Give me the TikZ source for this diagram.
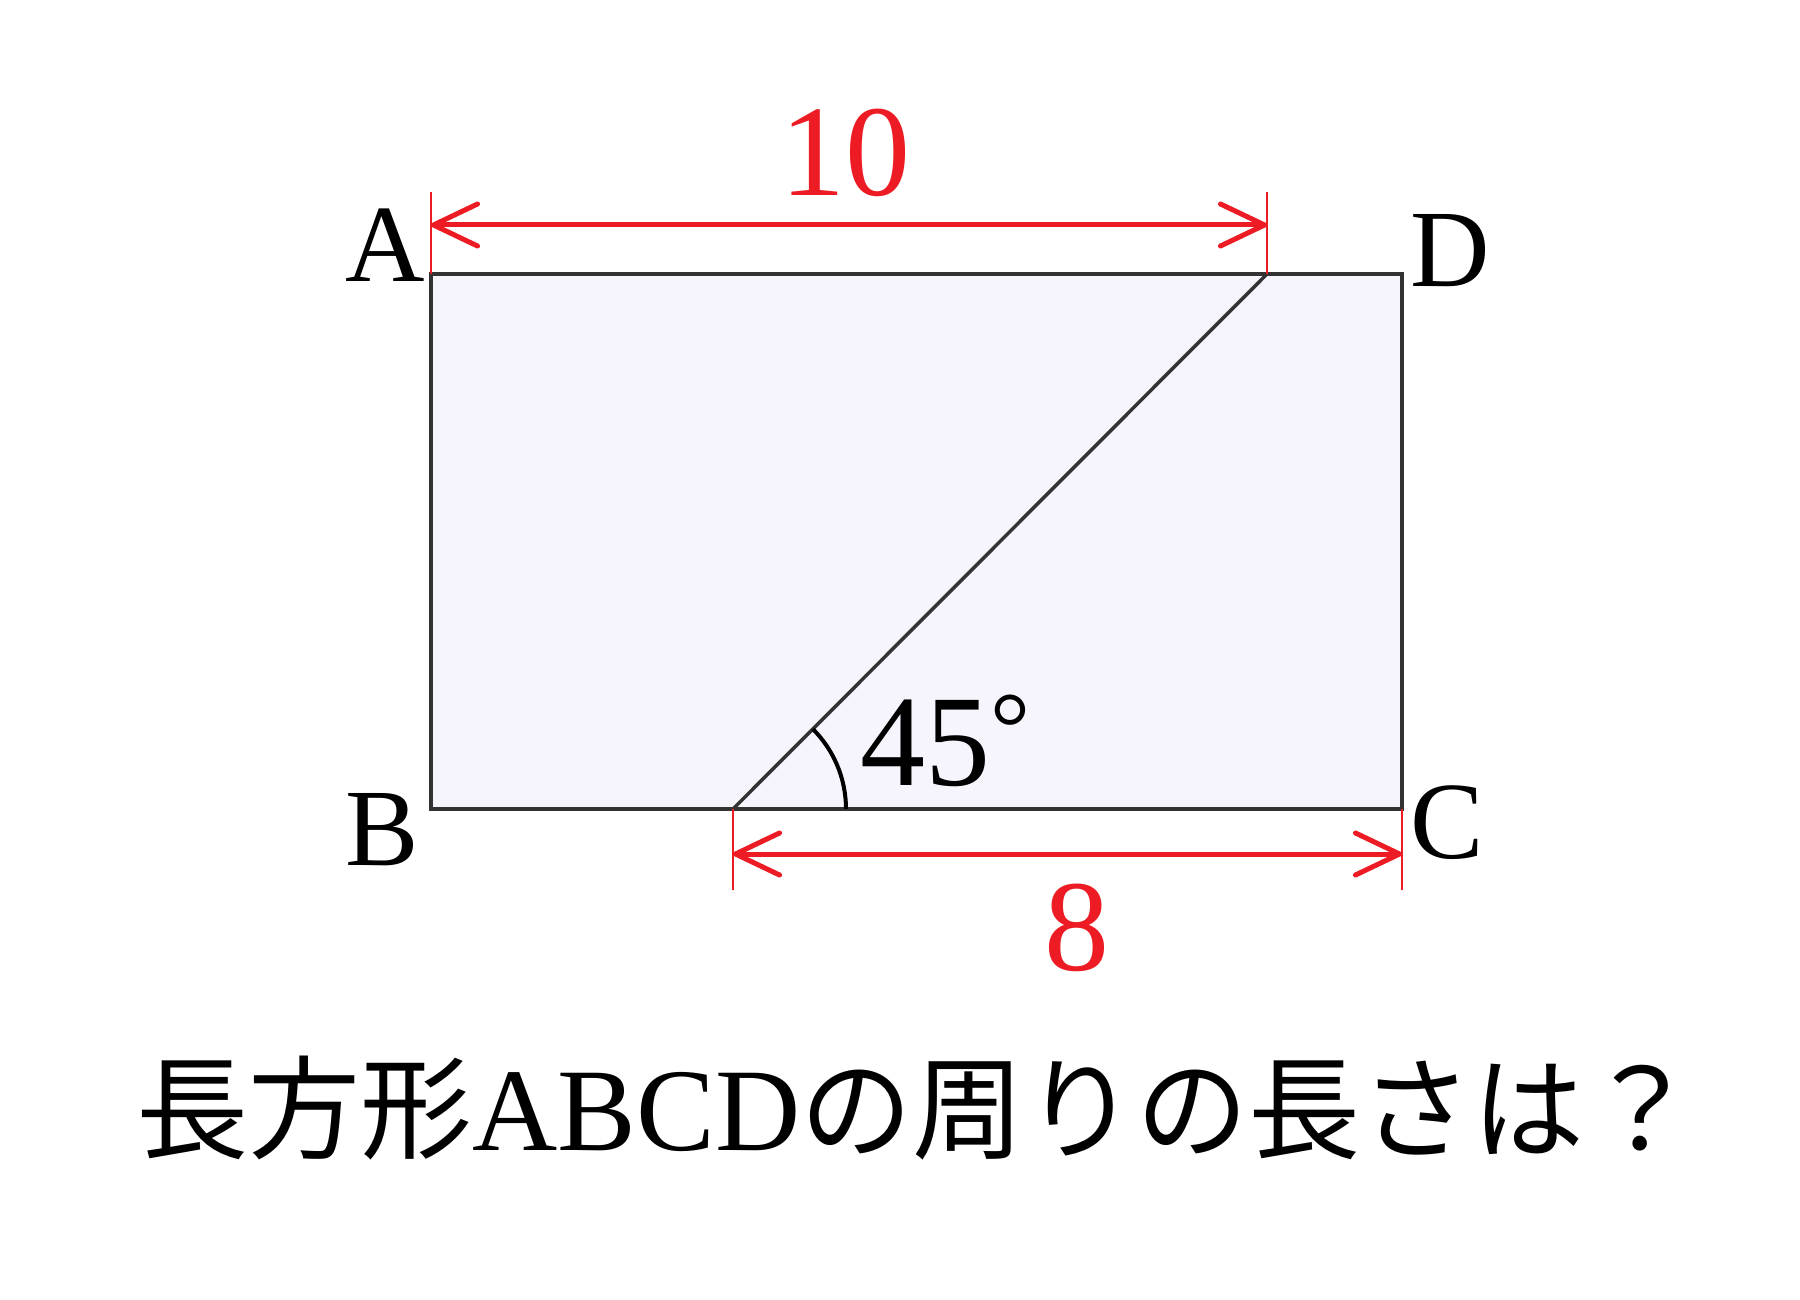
\documentclass[tikz,border=0pt]{standalone}
\usepackage{fontspec}
\setmainfont{Liberation Serif}
\newfontfamily\cjk{Noto Sans CJK JP}[Scale=0.95]
\usetikzlibrary{arrows.meta,calc}
\definecolor{dimred}{HTML}{ED1C24}
\definecolor{rectfill}{HTML}{F6F5FE}
\definecolor{edge}{HTML}{333333}
\tikzset{
  shape edge/.style={draw=edge, line width=3.5pt, line join=miter},
  dimline/.style={draw=dimred, line width=5pt,
    {Straight Barb[length=44pt,width=42pt,round]}-{Straight Barb[length=44pt,width=42pt,round]}},
  extline/.style={draw=dimred, line width=1.6pt},
  vertexlabel/.style={inner sep=0pt, anchor=base, font=\fontsize{110}{110}\selectfont},
  dimlabel/.style={inner sep=0pt, anchor=base, text=dimred, font=\fontsize{130}{130}\selectfont},
  anglearc/.style={draw=black, line width=4pt},
}
\begin{document}
\begin{tikzpicture}[x=1pt,y=-1pt]
  \fill[white] (0,0) rectangle (1800,1300);
  \useasboundingbox (0,0) rectangle (1800,1300);
  % corners
  \coordinate (A) at (431,274);
  \coordinate (B) at (431,809);
  \coordinate (C) at (1402,809);
  \coordinate (D) at (1402,274);
  \coordinate (E) at (1267,274);
  \coordinate (F) at (733,809);
  % rectangle and diagonal
  \fill[rectfill] (A) rectangle (C);
  \draw[shape edge] (A) -- (D) -- (C) -- (B) -- cycle;
  \draw[shape edge] (F) -- (E);
  % angle arc
  \draw[anglearc] ($(F)+(113,0)$) arc[start angle=0, end angle=-45, radius=113];
  % extension lines
  \coordinate (Aup) at (431,192);
  \coordinate (Eup) at (1267,192);
  \coordinate (Fdn) at (733,890);
  \coordinate (Cdn) at (1402,890);
  \draw[extline] (A) -- (Aup);
  \draw[extline] (E) -- (Eup);
  \draw[extline] (F) -- (Fdn);
  \draw[extline] (C) -- (Cdn);
  % dimension lines
  \coordinate (T1) at (431,225);
  \coordinate (T2) at (1267,225);
  \coordinate (U1) at (733,854);
  \coordinate (U2) at (1402,854);
  \draw[dimline] (T1) -- (T2);
  \draw[dimline] (U1) -- (U2);
  % labels
  \node[vertexlabel] (lA) at (385,282) {A};
  \node[vertexlabel] (lB) at (382,865) {B};
  \node[vertexlabel] (lC) at (1447,858) {C};
  \node[vertexlabel] (lD) at (1450,287) {D};
  \node[dimlabel] (l10) at (845,196) {10};
  \node[dimlabel] (l8) at (1077,970) {8};
  \node[inner sep=0pt, anchor=base west, font=\fontsize{130}{130}\selectfont] (l45) at (860,785)
    {45\raisebox{24pt}{\fontsize{100}{100}\selectfont °}};
  % title
  \node[inner sep=0pt, anchor=base west, font=\fontsize{118}{118}\selectfont] (title) at (136,1150)
    {{\cjk 長方形}ABCD{\cjk の周りの長さは？}};
\end{tikzpicture}
\end{document}
